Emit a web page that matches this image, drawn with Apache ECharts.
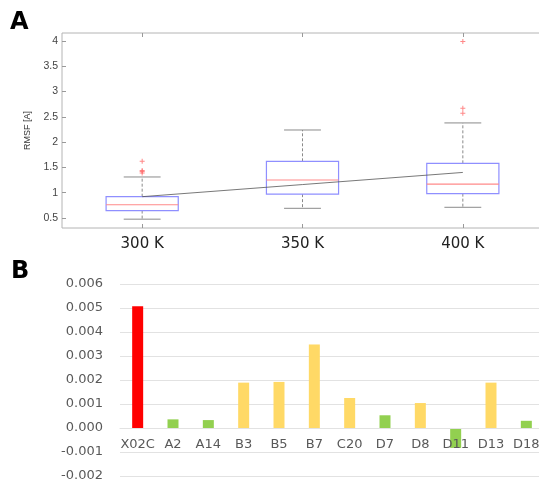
<!DOCTYPE html>
<html><head><meta charset="utf-8">
<script src="https://cdn.jsdelivr.net/npm/echarts@6/dist/echarts.min.js"></script>
<style>html,body{margin:0;padding:0;background:#fff}#c{width:539px;height:480px}</style>
</head><body><div id="c"></div>
<script>
// ---- Panel A: RMSF box plots ----
const tempCats = ['300 K', '350 K', '400 K'];
const whiskerLow = [0.475, 0.69, 0.71];
const q1 = [0.645, 0.97, 0.98];
const median = [0.76, 1.25, 1.17];
const q3 = [0.92, 1.62, 1.58];
const whiskerHigh = [1.31, 2.24, 2.38];
const meanLine = [0.92, 1.16, 1.40];
const outliers300 = [1.62, 1.44, 1.42, 1.39];
const outliers350 = [];
const outliers400 = [3.99, 2.67, 2.57];
const rmsfTicks = [0.5, 1, 1.5, 2, 2.5, 3, 3.5, 4];

// ---- Panel B: bar chart ----
const mutants = ['X02C', 'A2', 'A14', 'B3', 'B5', 'B7', 'C20', 'D7', 'D8', 'D11', 'D13', 'D18'];
const deltaValues = [0.00507, 0.00036, 0.00033, 0.00189, 0.00192, 0.00348, 0.00125, 0.00053, 0.00104, -0.00083, 0.00189, 0.00030];
const groups = ['ref', 'low', 'low', 'mid', 'mid', 'mid', 'mid', 'low', 'mid', 'low', 'mid', 'low'];

const groupColors = { ref: '#FF0000', low: '#92D050', mid: '#FFD966' };

const boxData = tempCats.map((c, i) => [i, whiskerLow[i], q1[i], median[i], q3[i], whiskerHigh[i]]);
const outlierData = [];
[outliers300, outliers350, outliers400].forEach((arr, i) => arr.forEach(v => outlierData.push([i, v])));

const chart = echarts.init(document.getElementById('c'), null, { renderer: 'canvas' });
const fontA = 'DejaVu Sans, sans-serif';

chart.setOption({
  animation: false,
  backgroundColor: '#fff',
  graphic: [
    { type: 'text', left: 10, top: 11, style: { text: 'A', font: 'bold 24px DejaVu Sans', fill: '#000' } },
    { type: 'text', left: 11, top: 260, style: { text: 'B', font: 'bold 24px DejaVu Sans', fill: '#000' } }
  ],
  grid: [
    { left: 62, top: 33, width: 481, height: 195, show: true, borderColor: '#b4b4b4', borderWidth: 1,
      backgroundColor: 'transparent', containLabel: false, outerBoundsMode: 'none' },
    { left: 120, top: 284, width: 424, height: 192, containLabel: false, outerBoundsMode: 'none' }
  ],
  xAxis: [
    { gridIndex: 0, type: 'category', data: tempCats, boundaryGap: true, position: 'bottom',
      axisLine: { show: false },
      axisTick: { show: true, inside: true, alignWithLabel: true, length: 4, lineStyle: { color: '#999' } },
      axisLabel: { color: '#222', fontFamily: fontA, fontSize: 15, margin: 9 },
      splitLine: { show: false } },
    { gridIndex: 0, type: 'category', data: tempCats, boundaryGap: true, position: 'top',
      axisLine: { show: false },
      axisTick: { show: true, inside: true, alignWithLabel: true, length: 4, lineStyle: { color: '#999' } },
      axisLabel: { show: false }, splitLine: { show: false } },
    { gridIndex: 1, type: 'category', data: mutants, boundaryGap: true,
      axisLine: { show: true, onZero: true, onZeroAxisIndex: 2, lineStyle: { color: '#e2e2e2', width: 1 } },
      axisTick: { show: false },
      axisLabel: { color: '#595959', fontFamily: fontA, fontSize: 13, margin: 10, interval: 0 },
      z: 5 }
  ],
  yAxis: [
    { gridIndex: 0, type: 'value', min: 0.3, max: 4.16, position: 'left',
      name: 'RMSF [A]', nameLocation: 'middle', nameGap: 17,
      nameTextStyle: { color: '#333', fontSize: 9, fontFamily: 'Liberation Sans, Arial, sans-serif' },
      axisLine: { show: false },
      axisTick: { show: true, inside: true, length: 4, lineStyle: { color: '#999' }, customValues: rmsfTicks },
      axisLabel: { color: '#444', fontSize: 10.5, fontFamily: 'Liberation Sans, Arial, sans-serif', margin: 4, customValues: rmsfTicks },
      splitLine: { show: false } },
    { gridIndex: 0, type: 'value', min: 0.3, max: 4.16, position: 'right',
      axisLine: { show: false },
      axisTick: { show: true, inside: true, length: 4, lineStyle: { color: '#999' }, customValues: rmsfTicks },
      axisLabel: { show: false }, splitLine: { show: false } },
    { gridIndex: 1, type: 'value', min: -0.002, max: 0.006, interval: 0.001,
      axisLine: { show: false }, axisTick: { show: false },
      axisLabel: { color: '#595959', fontFamily: fontA, fontSize: 13, margin: 17,
        formatter: v => v.toFixed(3) },
      splitLine: { show: true, lineStyle: { color: '#e2e2e2', width: 1 } } }
  ],
  series: [
    { type: 'custom', xAxisIndex: 0, yAxisIndex: 0, data: boxData,
      encode: { x: 0, y: [1, 2, 3, 4, 5] },
      renderItem: function (params, api) {
        const i = api.value(0);
        const lo = api.coord([i, api.value(1)]);
        const b1 = api.coord([i, api.value(2)]);
        const md = api.coord([i, api.value(3)]);
        const b3 = api.coord([i, api.value(4)]);
        const hi = api.coord([i, api.value(5)]);
        const w = api.size([1, 0])[0];
        const bh = w * 0.225, ch = w * 0.115;
        const x = lo[0];
        const dash = { stroke: '#8a8a8a', lineWidth: 1, lineDash: [3, 2] };
        const solid = { stroke: '#8a8a8a', lineWidth: 1 };
        return { type: 'group', children: [
          { type: 'line', shape: { x1: x, y1: b3[1], x2: x, y2: hi[1] }, style: dash },
          { type: 'line', shape: { x1: x, y1: b1[1], x2: x, y2: lo[1] }, style: dash },
          { type: 'line', shape: { x1: x - ch, y1: hi[1], x2: x + ch, y2: hi[1] }, style: solid },
          { type: 'line', shape: { x1: x - ch, y1: lo[1], x2: x + ch, y2: lo[1] }, style: solid },
          { type: 'rect', shape: { x: x - bh, y: b3[1], width: 2 * bh, height: b1[1] - b3[1] },
            style: { fill: 'none', stroke: '#8f8fff', lineWidth: 1.2 } },
          { type: 'line', shape: { x1: x - bh, y1: md[1], x2: x + bh, y2: md[1] },
            style: { stroke: '#ff8a8a', lineWidth: 1.2 } }
        ] };
      }
    },
    { type: 'line', xAxisIndex: 0, yAxisIndex: 0, data: meanLine, symbol: 'none',
      lineStyle: { color: '#555', width: 0.8 }, z: 4 },
    { type: 'scatter', xAxisIndex: 0, yAxisIndex: 0, data: outlierData,
      symbol: 'path://M2,0H3V2H5V3H3V5H2V3H0V2H2Z', symbolSize: 5,
      itemStyle: { color: '#ff6a6a' } },
    { type: 'bar', xAxisIndex: 2, yAxisIndex: 2, barWidth: 11,
      data: deltaValues.map((v, i) => ({ value: v, itemStyle: { color: groupColors[groups[i]] } })) }
  ]
});

// Put the category axis of panel B on the zero line (fallback if onZero is not applied).
(function () {
  const xm = chart.getModel().getComponent('xAxis', 2);
  const ax = xm && xm.axis;
  if (ax && !ax.onZero) {
    const zeroPx = chart.convertToPixel({ yAxisIndex: 2 }, 0);
    const minPx = chart.convertToPixel({ yAxisIndex: 2 }, -0.002);
    chart.setOption({ xAxis: [{}, {}, { axisLine: { onZero: false }, offset: zeroPx - minPx }] });
  }
})();
</script></body></html>
